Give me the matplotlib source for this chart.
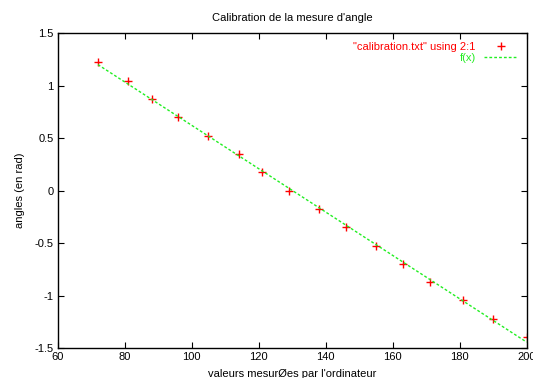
import numpy as np
import matplotlib
matplotlib.use("Agg")
import matplotlib.pyplot as plt

plt.rcParams['font.family'] = ['Liberation Sans', 'DejaVu Sans']

# calibration.txt : angle (rad) vs valeur mesuree
mesure = [72, 81, 88, 96, 105, 114, 121, 129, 138, 146, 155, 163, 171, 181, 190, 200]
angle = [1.222, 1.047, 0.873, 0.698, 0.524, 0.349, 0.175, 0.0,
         -0.175, -0.349, -0.524, -0.698, -0.873, -1.047, -1.222, -1.396]

# f(x) = a*x + b  (fit lineaire)
a = -0.02067
b = 2.6895
fx_range = [72, 200]

fig = plt.figure(figsize=(5.33, 3.78), dpi=100)
ax = fig.add_axes([0.1083, 0.0794, 0.8799, 0.8326])

ax.plot(mesure, angle, linestyle='none', marker='+', color='red', ms=5.5, mew=1,
        label='"calibration.txt" using 2:1')
xf = np.array(fx_range)
ax.plot(xf, a * xf + b, color='#22ee22', lw=1, dashes=(2, 1.5), label='f(x)')

ax.set_xlim(60, 200)
ax.set_ylim(-1.5, 1.5)
ax.set_xticks(np.arange(60, 201, 20))
ax.set_yticks(np.arange(-1.5, 1.51, 0.5))
ax.set_yticklabels(['-1.5', '-1', '-0.5', '0', '0.5', '1', '1.5'])
ax.tick_params(direction='in', top=True, right=True, length=4, width=0.8,
               labelsize=8, pad=3)
for s in ax.spines.values():
    s.set_linewidth(1)

ax.set_title("Calibration de la mesure d'angle", fontsize=8, pad=9)
ax.set_xlabel("valeurs mesurØes par l'ordinateur", fontsize=8, labelpad=5)
ax.set_ylabel("angles (en rad)", fontsize=8, labelpad=7)

ax.legend(loc='upper right', frameon=False, markerfirst=False, fontsize=8,
          labelcolor='linecolor', handlelength=3, borderaxespad=0.4,
          labelspacing=0.1, handletextpad=0.8)

fig.savefig('out.png', dpi=100)
